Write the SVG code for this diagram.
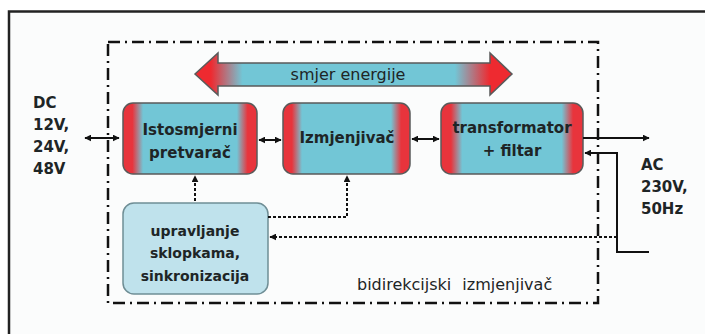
<svg xmlns="http://www.w3.org/2000/svg" width="705" height="334" viewBox="0 0 705 334">
<defs>
<linearGradient id="blockGrad" x1="0" y1="0" x2="1" y2="0">
<stop offset="0" stop-color="#e8343c"/>
<stop offset="0.07" stop-color="#e8343c"/>
<stop offset="0.15" stop-color="#72c6d6"/>
<stop offset="0.85" stop-color="#72c6d6"/>
<stop offset="0.93" stop-color="#e8343c"/>
<stop offset="1" stop-color="#e8343c"/>
</linearGradient>
<linearGradient id="arrowGrad" gradientUnits="userSpaceOnUse" x1="195" y1="0" x2="512" y2="0">
<stop offset="0" stop-color="#ee2a30"/>
<stop offset="0.05" stop-color="#ee2a30"/>
<stop offset="0.15" stop-color="#72c6d6"/>
<stop offset="0.82" stop-color="#72c6d6"/>
<stop offset="0.93" stop-color="#ee2a30"/>
<stop offset="1" stop-color="#ee2a30"/>
</linearGradient>
<marker id="ah" viewBox="0 0 10 10" refX="9" refY="5" markerWidth="7" markerHeight="7" markerUnits="userSpaceOnUse" orient="auto-start-reverse">
<path d="M0,0 L10,5 L0,10 Z" fill="#111"/>
</marker>
<style>
.t{font-family:"DejaVu Sans","Liberation Sans",Arial,sans-serif;fill:#1e2526}
.b{font-weight:bold}
.lbl{font-size:15px;font-weight:bold}
.bx{font-size:15px;font-weight:bold}
.blk{stroke:#5a5a5a;stroke-width:1.5;fill:url(#blockGrad)}
.ln{stroke:#111;stroke-width:2;fill:none}
.dot{stroke:#111;stroke-width:2;fill:none;stroke-dasharray:3 2}
.dd{stroke:#111;stroke-width:2.5;fill:none;stroke-dasharray:12 5 2 5}
</style>
</defs>
<rect x="0" y="0" width="705" height="334" fill="#ffffff"/>
<rect x="9" y="11.5" width="720" height="340" fill="#fbfcfc" stroke="#222" stroke-width="2.5"/>

<g id="boundary">
<rect class="dd" x="108" y="42" width="490" height="261"/>
<text class="t" x="357" y="290" font-size="16" word-spacing="6">bidirekcijski izmjenjivač</text>
</g>

<g id="energy-direction">
<polygon points="195,74 218,53 218,63 490,63 490,53 512,74 490,95 490,86 218,86 218,95" fill="url(#arrowGrad)" stroke="#5a5a5a" stroke-width="1.5"/>
<text class="t" x="348" y="80" font-size="16" text-anchor="middle">smjer energije</text>
</g>

<g id="dc-label">
<text class="t lbl" x="33" y="108">DC</text>
<text class="t lbl" x="33" y="130">12V,</text>
<text class="t lbl" x="33" y="152">24V,</text>
<text class="t lbl" x="33" y="174">48V</text>
</g>

<g id="ac-label">
<text class="t lbl" x="641" y="170">AC</text>
<text class="t lbl" x="641" y="192">230V,</text>
<text class="t lbl" x="641" y="214">50Hz</text>
</g>

<g id="dc-dc-converter">
<rect class="blk" x="123" y="103" width="134" height="71" rx="10"/>
<text class="t bx" x="190" y="135" text-anchor="middle">Istosmjerni</text>
<text class="t bx" x="190" y="158" text-anchor="middle">pretvarač</text>
</g>

<g id="inverter">
<rect class="blk" x="283" y="103" width="127" height="71" rx="10"/>
<text class="t bx" x="347" y="143" text-anchor="middle">Izmjenjivač</text>
</g>

<g id="transformer-filter">
<rect class="blk" x="441" y="103" width="142" height="71" rx="10"/>
<text class="t bx" x="512" y="133" text-anchor="middle">transformator</text>
<text class="t bx" x="512" y="156" text-anchor="middle">+ filtar</text>
</g>

<g id="control">
<rect x="123" y="203" width="145" height="91" rx="11" fill="#bfe2ec" stroke="#6f8e95" stroke-width="1.5"/>
<text class="t b" x="195" y="236" font-size="14" text-anchor="middle">upravljanje</text>
<text class="t b" x="195" y="258" font-size="14" text-anchor="middle">sklopkama,</text>
<text class="t b" x="195" y="281" font-size="14" text-anchor="middle">sinkronizacija</text>
</g>

<g id="connectors">
<line class="ln" x1="85" y1="138" x2="119" y2="138" marker-start="url(#ah)" marker-end="url(#ah)"/>
<line class="ln" x1="259" y1="140" x2="281" y2="140" marker-start="url(#ah)" marker-end="url(#ah)"/>
<line class="ln" x1="412" y1="139" x2="439" y2="139" marker-start="url(#ah)" marker-end="url(#ah)"/>
<line class="ln" x1="583" y1="138" x2="649" y2="138" marker-end="url(#ah)"/>
<polyline class="ln" points="649,252 617,252 617,153 585,153" marker-end="url(#ah)"/>
<line class="dot" x1="617" y1="237" x2="270" y2="237" marker-end="url(#ah)"/>
<line class="dot" x1="195" y1="201" x2="195" y2="176" marker-end="url(#ah)"/>
<polyline class="dot" points="268,217 347,217 347,176" marker-end="url(#ah)"/>
</g>
</svg>
